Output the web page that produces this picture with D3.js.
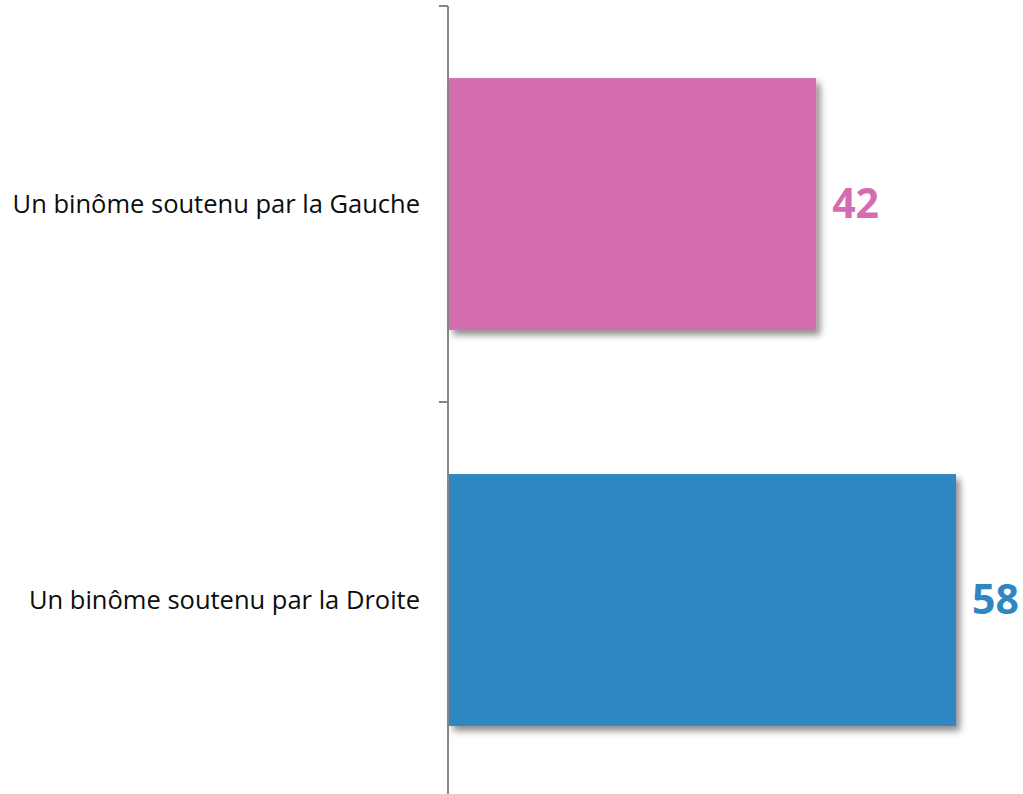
<!DOCTYPE html>
<html>
<head>
<meta charset="utf-8">
<script src="https://cdn.jsdelivr.net/npm/d3@7"></script>
<style>
  body { margin: 0; background: #fff; }
</style>
</head>
<body>
<div id="chart"></div>
<script>
const categories = ["Un binôme soutenu par la Gauche", "Un binôme soutenu par la Droite"];
const values = [42, 58];
const colors = ["#D46CAF", "#2E87C0"];

const width = 1023, height = 794;
const x0 = 448;

const svg = d3.select("#chart").append("svg")
  .attr("width", width)
  .attr("height", height);

const defs = svg.append("defs");
const filter = defs.append("filter")
  .attr("id", "shadow")
  .attr("x", "-10%").attr("y", "-10%")
  .attr("width", "130%").attr("height", "130%");
filter.append("feDropShadow")
  .attr("dx", 4)
  .attr("dy", 5)
  .attr("stdDeviation", 3.5)
  .attr("flood-color", "#000")
  .attr("flood-opacity", 0.45);

const x = d3.scaleLinear()
  .domain([0, 58])
  .range([x0 + 1, 956]);

const y = d3.scaleBand()
  .domain(categories)
  .range([6, 798])
  .paddingInner(0.364)
  .paddingOuter(0.182);

// bars
svg.append("g")
  .selectAll("rect")
  .data(values)
  .join("rect")
    .attr("x", x(0))
    .attr("y", (d, i) => y(categories[i]))
    .attr("width", d => x(d) - x(0))
    .attr("height", y.bandwidth())
    .attr("fill", (d, i) => colors[i])
    .attr("filter", "url(#shadow)");

// axis
const axis = svg.append("g")
  .attr("transform", `translate(${x0},0)`);

axis.append("line")
  .attr("y1", 6).attr("y2", 798)
  .attr("stroke", "#868686")
  .attr("stroke-width", 2);

// ticks on band edges
const edges = [6, y(categories[1]) - y.step() * y.paddingInner() / 2, 798];
axis.selectAll(".edge")
  .data(edges)
  .join("line")
    .attr("class", "edge")
    .attr("x1", -9).attr("x2", 0)
    .attr("y1", d => d).attr("y2", d => d)
    .attr("stroke", "#868686")
    .attr("stroke-width", 2);

// category labels
svg.append("g")
  .selectAll("text")
  .data(categories)
  .join("text")
    .attr("x", 420)
    .attr("y", d => y(d) + y.bandwidth() / 2)
    .attr("dy", "0.35em")
    .attr("text-anchor", "end")
    .attr("font-family", "Open Sans, sans-serif")
    .attr("font-size", 25.5)
    .attr("fill", "#0d0d0d")
    .text(d => d);

// value labels
svg.append("g")
  .selectAll("text")
  .data(values)
  .join("text")
    .attr("x", d => x(d) + 16)
    .attr("y", (d, i) => y(categories[i]) + y.bandwidth() / 2)
    .attr("dy", "0.35em")
    .attr("font-family", "Open Sans, sans-serif")
    .attr("font-weight", "bold")
    .attr("font-size", 41)
    .attr("fill", (d, i) => colors[i])
    .text(d => d);
</script>
</body>
</html>
